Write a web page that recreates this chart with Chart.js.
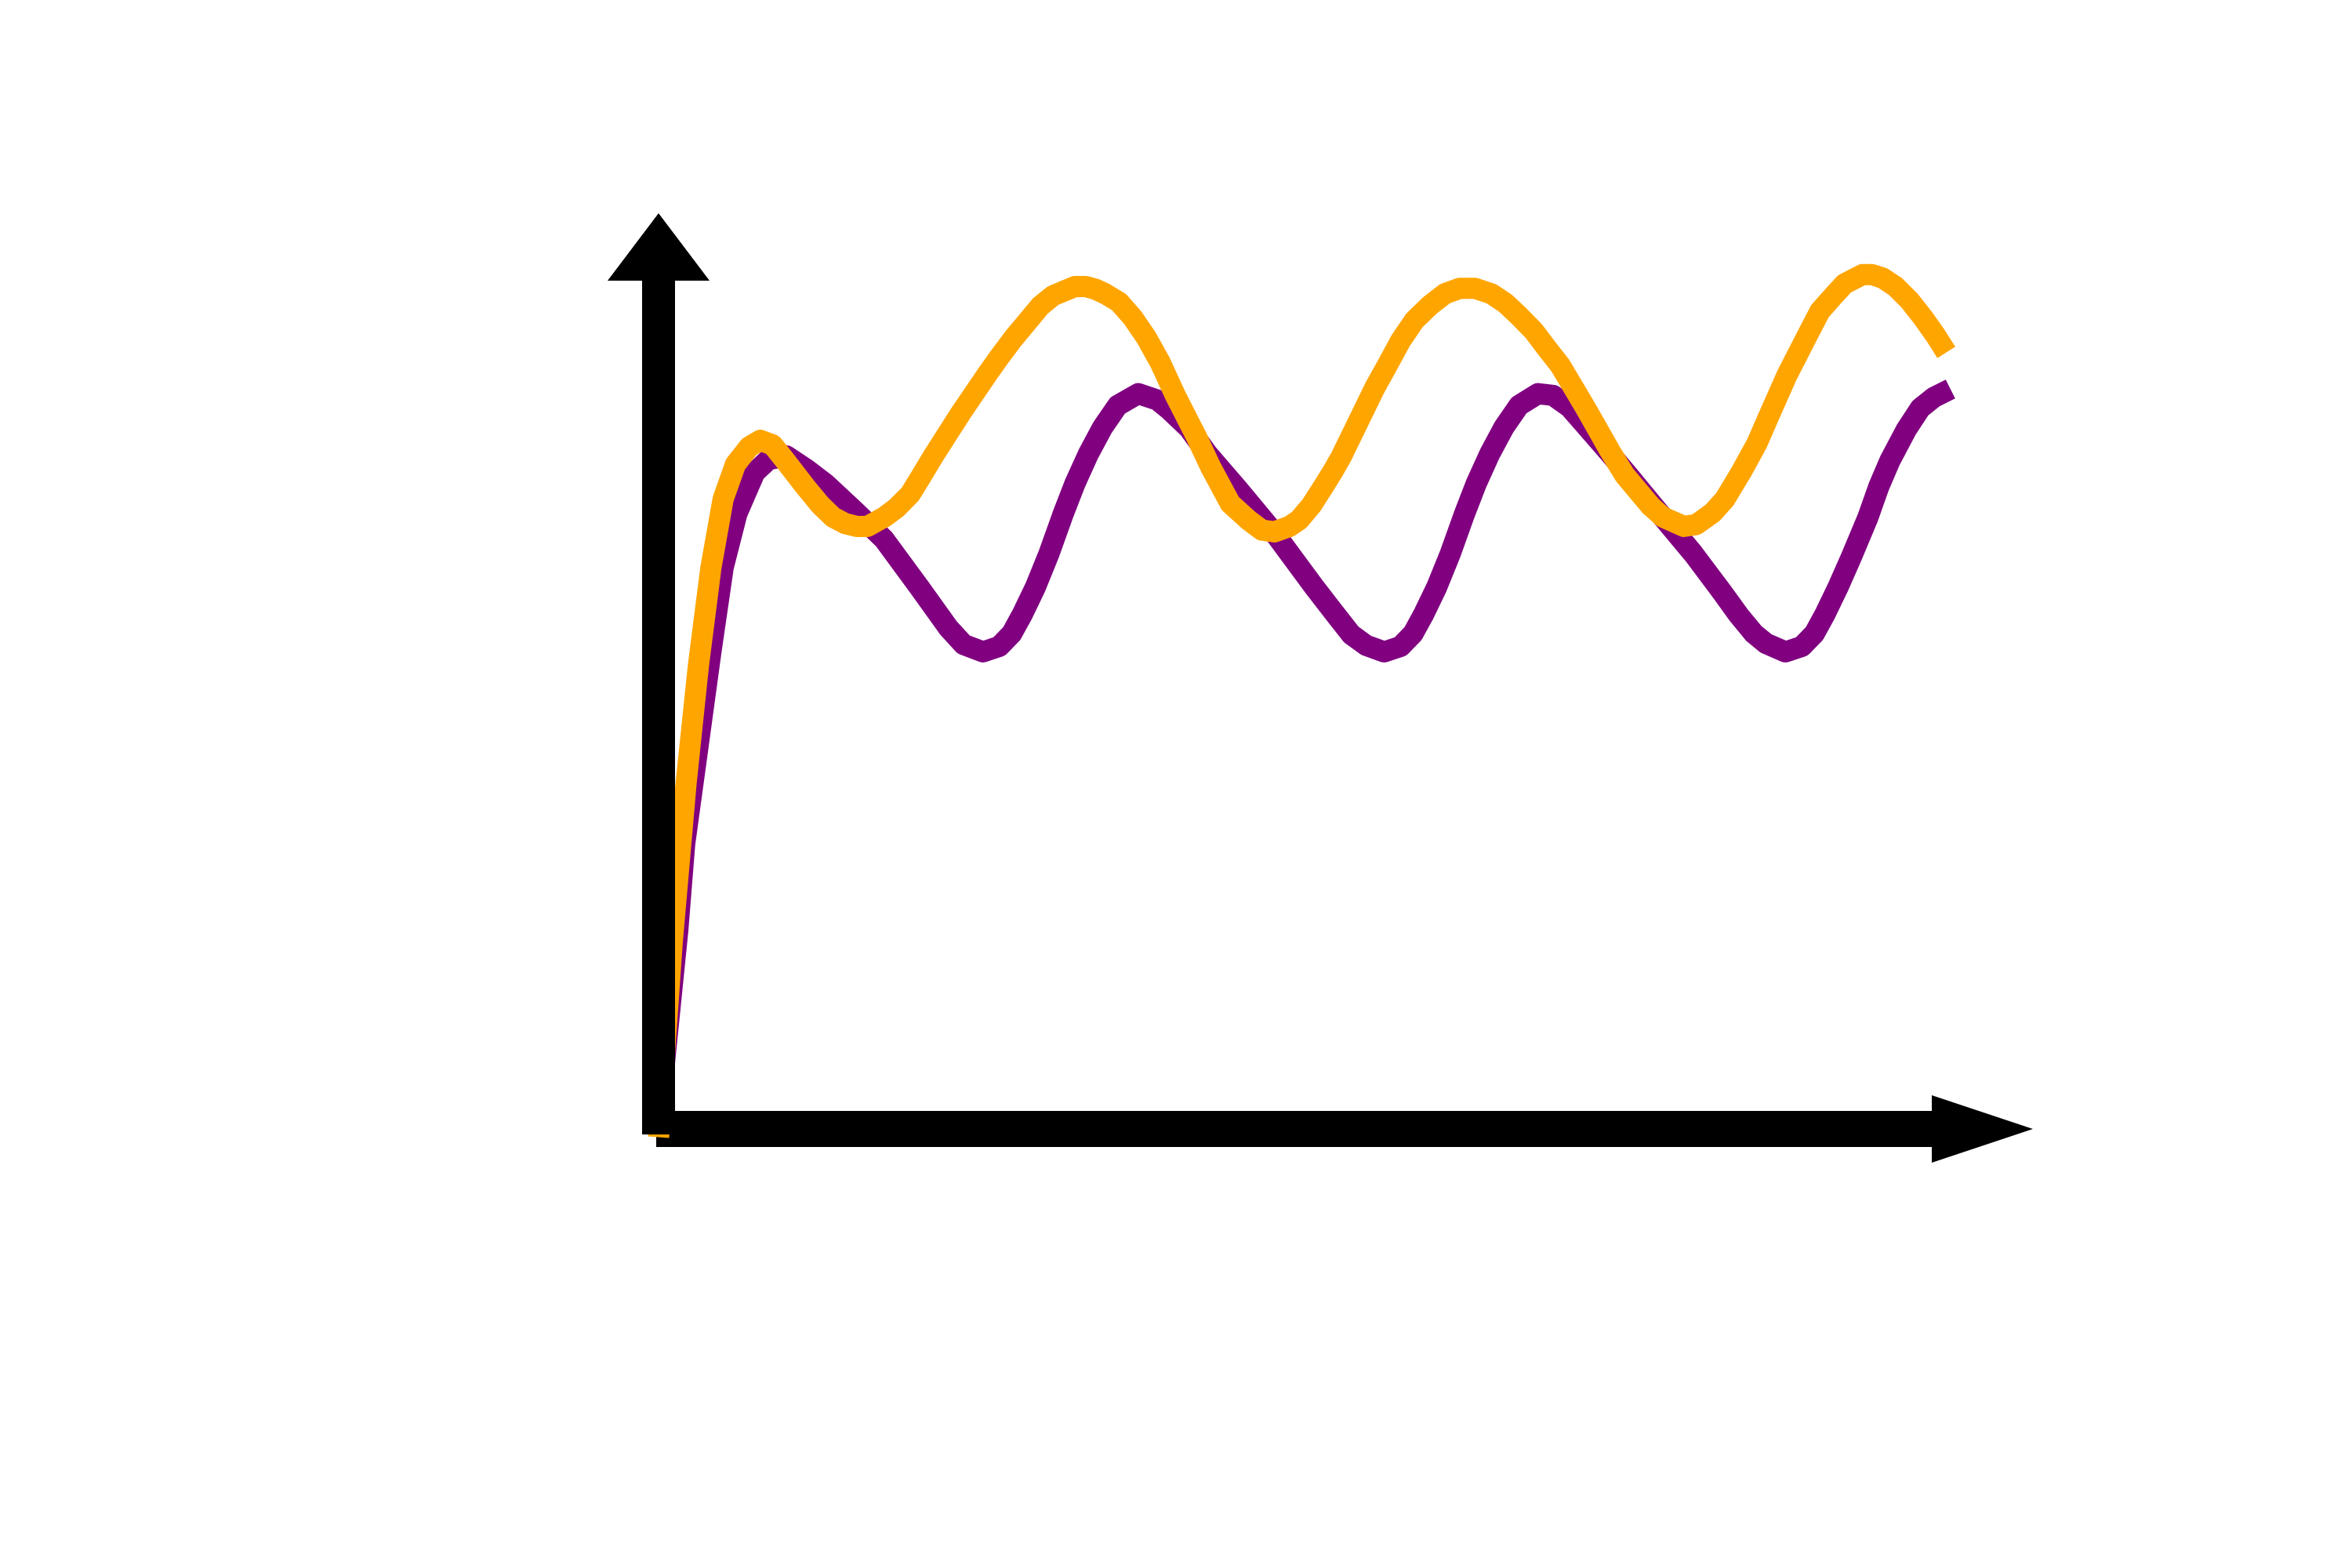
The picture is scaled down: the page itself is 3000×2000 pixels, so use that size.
<!DOCTYPE html>
<html>
<head>
<meta charset="utf-8">
<script src="https://cdn.jsdelivr.net/npm/chart.js@4/dist/chart.umd.min.js"></script>
<style>
  html, body { margin: 0; padding: 0; background: #ffffff; }
  canvas { display: block; }
</style>
</head>
<body>
<canvas id="chart" width="3000" height="2000"></canvas>
<script>
// values (axis units 0..10 on both axes, no ticks shown)
const orangeX = [0.00, 0.10, 0.20, 0.29, 0.38, 0.47, 0.56, 0.66, 0.74, 0.83, 0.91, 1.07, 1.18, 1.27, 1.36, 1.44, 1.52, 1.64, 1.73, 1.83,
    1.90, 2.00, 2.20, 2.40, 2.49, 2.58, 2.78, 2.87, 2.95, 3.03, 3.11, 3.18, 3.25, 3.35, 3.45, 3.55, 3.65, 3.76, 3.91, 4.02,
    4.16, 4.30, 4.39, 4.48, 4.59, 4.66, 4.75, 4.84, 4.91, 4.97, 5.09, 5.21, 5.31, 5.40, 5.50, 5.61, 5.72, 5.83, 5.94, 6.06,
    6.16, 6.26, 6.37, 6.46, 6.56, 6.75, 6.92, 7.03, 7.22, 7.31, 7.46, 7.55, 7.67, 7.76, 7.88, 7.99, 8.08, 8.21, 8.36, 8.45,
    8.55, 8.63, 8.76, 8.83, 8.91, 9.00, 9.10, 9.20, 9.29, 9.37];
const orangeY = [-0.09, 2.05, 3.77, 5.06, 6.12, 6.88, 7.26, 7.45, 7.52, 7.47, 7.32, 7.01, 6.81, 6.68, 6.61, 6.58, 6.58, 6.68, 6.78, 6.93,
    7.10, 7.35, 7.82, 8.26, 8.45, 8.63, 8.99, 9.10, 9.15, 9.20, 9.20, 9.17, 9.12, 9.03, 8.86, 8.64, 8.37, 8.01, 7.57, 7.22,
    6.83, 6.64, 6.54, 6.52, 6.58, 6.65, 6.81, 7.02, 7.19, 7.35, 7.72, 8.09, 8.36, 8.61, 8.83, 8.99, 9.12, 9.18, 9.18, 9.12,
    9.02, 8.88, 8.71, 8.53, 8.34, 7.86, 7.41, 7.14, 6.80, 6.68, 6.58, 6.60, 6.73, 6.88, 7.18, 7.48, 7.79, 8.23, 8.67, 8.93,
    9.10, 9.23, 9.33, 9.33, 9.29, 9.20, 9.05, 8.86, 8.67, 8.48];

const purpleX = [0.00, 0.03, 0.14, 0.19, 0.28, 0.38, 0.47, 0.57, 0.70, 0.80, 0.93, 1.08, 1.22, 1.44, 1.64, 1.90, 2.11, 2.22, 2.36, 2.48,
    2.57, 2.65, 2.74, 2.84, 2.94, 3.03, 3.13, 3.23, 3.34, 3.49, 3.63, 3.72, 3.86, 3.99, 4.22, 4.49, 4.77, 4.92, 5.04, 5.15,
    5.28, 5.40, 5.49, 5.57, 5.66, 5.76, 5.86, 5.95, 6.05, 6.15, 6.26, 6.40, 6.51, 6.63, 6.73, 6.92, 7.05, 7.23, 7.53, 7.74,
    7.86, 7.97, 8.06, 8.20, 8.32, 8.41, 8.49, 8.58, 8.68, 8.80, 8.88, 8.96, 9.08, 9.18, 9.28, 9.40];
const purpleY = [0.00, 0.53, 2.17, 3.11, 4.10, 5.20, 6.13, 6.72, 7.17, 7.31, 7.35, 7.20, 7.04, 6.73, 6.44, 5.91, 5.47, 5.29, 5.21, 5.27,
    5.41, 5.63, 5.91, 6.28, 6.70, 7.05, 7.38, 7.66, 7.90, 8.03, 7.96, 7.85, 7.65, 7.38, 6.98, 6.49, 5.92, 5.63, 5.40, 5.28,
    5.21, 5.27, 5.41, 5.63, 5.91, 6.28, 6.70, 7.05, 7.38, 7.66, 7.90, 8.03, 8.01, 7.88, 7.71, 7.38, 7.15, 6.82, 6.28, 5.86,
    5.61, 5.41, 5.30, 5.21, 5.27, 5.41, 5.63, 5.91, 6.25, 6.68, 7.02, 7.30, 7.64, 7.87, 7.99, 8.08];

const axisMin = 0;
const axisMax = 10;

function toPoints(xs, ys) {
    return xs.map((x, i) => ({ x: x, y: ys[i] }));
}

// thick black axes with arrow heads; x axis goes under the lines, y axis over them
const arrowAxes = {
    id: 'arrowAxes',
    beforeDatasetsDraw(chart) {
        const { ctx, chartArea, scales } = chart;
        const x0 = scales.x.getPixelForValue(0);
        const y0 = scales.y.getPixelForValue(0);
        const tip = chartArea.right;
        const headLen = 129;
        ctx.save();
        ctx.fillStyle = '#000000';
        ctx.fillRect(x0 - 3, y0 - 23, tip - headLen - (x0 - 3), 46);
        ctx.beginPath();
        ctx.moveTo(tip - headLen, y0 - 43);
        ctx.lineTo(tip, y0);
        ctx.lineTo(tip - headLen, y0 + 43);
        ctx.closePath();
        ctx.fill();
        ctx.restore();
    },
    afterDatasetsDraw(chart) {
        const { ctx, chartArea, scales } = chart;
        const x0 = scales.x.getPixelForValue(0);
        const y0 = scales.y.getPixelForValue(0);
        const tip = chartArea.top;
        const headLen = 86;
        ctx.save();
        ctx.fillStyle = '#000000';
        ctx.fillRect(x0 - 21, tip + headLen, 42, y0 + 7 - (tip + headLen));
        ctx.beginPath();
        ctx.moveTo(x0 - 65, tip + headLen);
        ctx.lineTo(x0, tip);
        ctx.lineTo(x0 + 65, tip + headLen);
        ctx.closePath();
        ctx.fill();
        ctx.restore();
    }
};

new Chart(document.getElementById('chart'), {
    type: 'line',
    data: {
        datasets: [{
            label: 'orange',
            data: toPoints(orangeX, orangeY),
            borderColor: '#FFA500',
            borderWidth: 27,
            borderCapStyle: 'butt',
            borderJoinStyle: 'round',
            pointRadius: 0,
            tension: 0,
            clip: false
        }, {
            label: 'purple',
            data: toPoints(purpleX, purpleY),
            borderColor: '#800080',
            borderWidth: 27,
            borderCapStyle: 'butt',
            borderJoinStyle: 'round',
            pointRadius: 0,
            tension: 0,
            clip: false
        }]
    },
    options: {
        responsive: false,
        animation: false,
        layout: {
            padding: { left: 840, right: 407, top: 272, bottom: 560 }
        },
        scales: {
            x: { type: 'linear', min: axisMin, max: axisMax, display: false },
            y: { type: 'linear', min: axisMin, max: axisMax, display: false }
        },
        plugins: {
            legend: { display: false },
            tooltip: { enabled: false }
        }
    },
    plugins: [arrowAxes]
});
</script>
</body>
</html>
